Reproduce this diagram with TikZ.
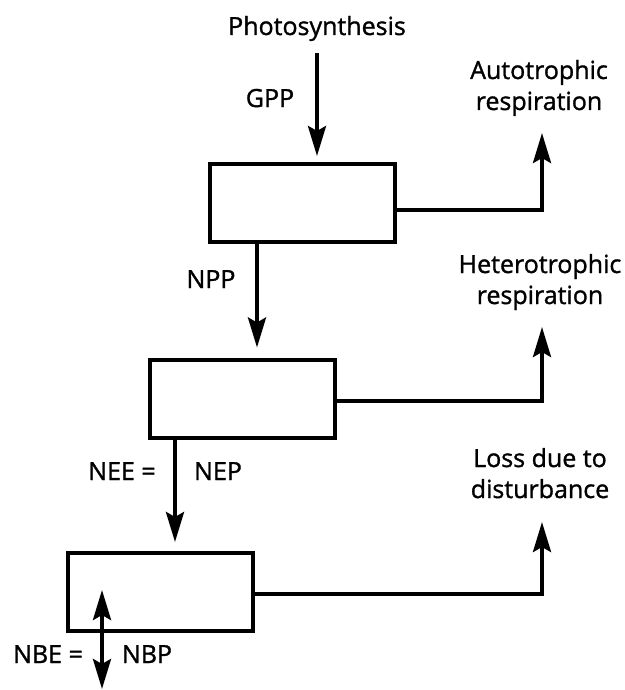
\documentclass[tikz,border=0pt]{standalone}
\usepackage{fontspec}
\setmainfont[FakeBold=1.2]{Open Sans}
\usetikzlibrary{arrows.meta}
\begin{document}
\begin{tikzpicture}[x=1pt,y=-1pt,
  pool/.style={draw, line width=4pt, minimum width=185pt, minimum height=78pt, inner sep=0pt},
  lbl/.style={font=\fontsize{25}{31}\selectfont, inner sep=0pt, align=center, anchor=base},
  flow/.style={line width=3.8pt, -{Stealth[length=30pt,width=18pt,inset=5pt]}},
  twoway/.style={line width=3.8pt, {Stealth[length=30pt,width=18pt,inset=5pt]}-{Stealth[length=30pt,width=18pt,inset=5pt]}},
]
\useasboundingbox (0,0) rectangle (624,690);

% carbon pools
\node[pool] (b1) at (302.5,203) {};
\node[pool] (b2) at (242.5,398.5) {};
\node[pool] (b3) at (160,592) {};

% labels (two-line labels sit on the baseline of their last line)
\node[lbl] (photo) at (317,35) {Photosynthesis};
\node[lbl] (gpp) at (270,107) {GPP};
\node[lbl] (npp) at (211,288) {NPP};
\node[lbl] (nee) at (122,480) {NEE =};
\node[lbl] (nep) at (218,480) {NEP};
\node[lbl] (nbe) at (48,663) {NBE =};
\node[lbl] (nbp) at (147,663) {NBP};
\node[lbl] (auto) at (539,110) {Autotrophic\\respiration};
\node[lbl] (hetero) at (540,304) {Heterotrophic\\respiration};
\node[lbl] (loss) at (540,498) {Loss due to\\disturbance};

% tips of the outgoing fluxes
\coordinate (t1) at (542,133);
\coordinate (t2) at (542,327);
\coordinate (t3) at (542,522);
\coordinate (nbup) at (102,590);
\coordinate (nbdn) at (102,689);

% vertical fluxes between pools
\draw[flow] ([yshift=-18pt]photo.base) -- ([yshift=6pt]b1.north -| photo.base);
\draw[flow] ([xshift=-45.5pt]b1.south) -- ([xshift=14.5pt,yshift=10pt]b2.north);
\draw[flow] ([xshift=-67.5pt]b2.south) -- ([xshift=15pt,yshift=9pt]b3.north);

% losses to the atmosphere
\draw[flow] ([yshift=-7pt]b1.east) -| (t1);
\draw[flow] ([yshift=-2.5pt]b2.east) -| (t2);
\draw[flow] ([yshift=-2pt]b3.east) -| (t3);

% net biome exchange
\draw[twoway] (nbdn) -- (nbup);
\end{tikzpicture}
\end{document}
